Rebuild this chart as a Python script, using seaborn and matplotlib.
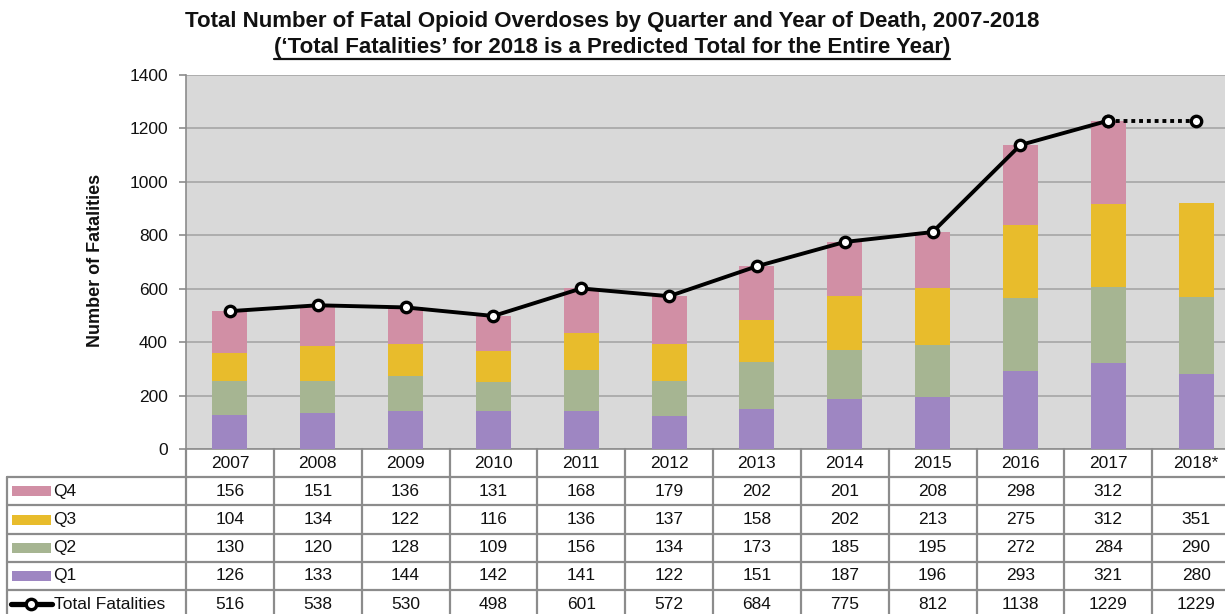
import numpy as np
import pandas as pd
import matplotlib
matplotlib.use("Agg")
import matplotlib.pyplot as plt
import seaborn as sns
from matplotlib.lines import Line2D
from matplotlib.patches import Rectangle

years = ["2007", "2008", "2009", "2010", "2011", "2012", "2013", "2014", "2015", "2016", "2017", "2018*"]
q1 = [126, 133, 144, 142, 141, 122, 151, 187, 196, 293, 321, 280]
q2 = [130, 120, 128, 109, 156, 134, 173, 185, 195, 272, 284, 290]
q3 = [104, 134, 122, 116, 136, 137, 158, 202, 213, 275, 312, 351]
q4 = [156, 151, 136, 131, 168, 179, 202, 201, 208, 298, 312, None]
totals = [516, 538, 530, 498, 601, 572, 684, 775, 812, 1138, 1229, 1229]

title1 = "Total Number of Fatal Opioid Overdoses by Quarter and Year of Death, 2007-2018"
title2 = "(\u2018Total Fatalities\u2019 for 2018 is a Predicted Total for the Entire Year)"

colors = {"Q4": "#D18FA5", "Q3": "#E8BC2C", "Q2": "#A6B592", "Q1": "#9E86C2"}

sns.set_theme(style="white")
plt.rcParams["font.family"] = ["Liberation Sans", "DejaVu Sans"]

W, H = 1225, 614
fig = plt.figure(figsize=(W / 100, H / 100), dpi=100)

def px_axes(l, t, r, b):
    return [l / W, 1 - b / H, (r - l) / W, (b - t) / H]

ax = fig.add_axes(px_axes(186, 75, 1240, 449))
ax.set_facecolor("#D9D9D9")

df = pd.DataFrame({"year": years, "Q1": q1, "Q2": q2, "Q3": q3,
                   "Q4": [np.nan if v is None else v for v in q4]})
df["c1"] = df["Q1"]
df["c2"] = df["c1"] + df["Q2"]
df["c3"] = df["c2"] + df["Q3"]
df["c4"] = (df["c3"] + df["Q4"]).fillna(df["c3"])

for col, q in [("c4", "Q4"), ("c3", "Q3"), ("c2", "Q2"), ("c1", "Q1")]:
    sns.barplot(data=df, x="year", y=col, order=years, color=colors[q],
                saturation=1, width=0.4, ax=ax, zorder=3, linewidth=0)

ax.set_ylim(0, 1400)
ax.set_xlim(-0.5, 11.5)
ax.set_yticks(range(0, 1401, 200))
ax.yaxis.grid(True, color="#A6A6A6", linewidth=1.2, zorder=0)
ax.set_axisbelow(True)
ax.tick_params(axis="y", which="both", left=True, length=5, width=1.2,
               color="#8C8C8C", labelsize=12.5, labelcolor="#111111", pad=8)
ax.tick_params(axis="x", bottom=False, labelbottom=False)
for s in ["top", "right"]:
    ax.spines[s].set_visible(False)
for s in ["left", "bottom"]:
    ax.spines[s].set_color("#8C8C8C")
    ax.spines[s].set_linewidth(1.2)

tot_df = pd.DataFrame({"year": years, "total": totals})
sns.pointplot(data=tot_df.iloc[:11], x="year", y="total", order=years, color="black",
              markers="o", linewidth=2.8, markersize=7.5, ax=ax,
              markerfacecolor="white", markeredgecolor="black", markeredgewidth=2.4, zorder=5)
sns.pointplot(data=tot_df.iloc[10:], x="year", y="total", order=years, color="black",
              markers="o", linestyles=(0, (1, 1)), linewidth=2.8, markersize=7.5, ax=ax,
              markerfacecolor="white", markeredgecolor="black", markeredgewidth=2.4, zorder=4)
ax.set_xlim(-0.5, 11.5)
ax.set_ylim(0, 1400)
ax.set_xlabel("")
ax.set_ylabel("")

fig.text(96 / W, 1 - 260 / H, "Number of Fatalities", rotation=90, ha="center", va="center",
         fontsize=13, fontweight="bold", color="#111111")

fig.text(612 / W, 1 - 22 / H, title1, ha="center", va="center", fontsize=16,
         fontweight="bold", color="#111111")
t2 = fig.text(612 / W, 1 - 47 / H, title2, ha="center", va="center", fontsize=16,
              fontweight="bold", color="#111111")

# table
tax = fig.add_axes(px_axes(7, 449, 1240, 618))
unit = (1240 - 186) / 12
left_x = -0.5 - (186 - 7) / unit
tax.set_xlim(left_x, 11.5)
tax.set_ylim(618, 449)
tax.axis("off")
gc = "#8C8C8C"
row_edges = [449, 477.2, 505.4, 533.6, 561.8, 590, 618.2]
for y in row_edges[1:]:
    tax.plot([left_x, 11.5], [y, y], color=gc, lw=1.6, clip_on=False)
for i in range(12):
    tax.plot([i - 0.5, i - 0.5], [449, 618.2], color=gc, lw=1.6, clip_on=False)
tax.plot([left_x, left_x], [477.2, 618.2], color=gc, lw=1.6, clip_on=False)

def cy(k):
    return (row_edges[k] + row_edges[k + 1]) / 2

fs = 12.5
for i, yl in enumerate(years):
    tax.text(i, cy(0), yl, ha="center", va="center", fontsize=fs, color="#111111")

rows = [("Q4", q4), ("Q3", q3), ("Q2", q2), ("Q1", q1)]

def pxx(p):
    return left_x + (p - 7) / unit

for k, (name, vals) in enumerate(rows, start=1):
    tax.add_patch(Rectangle((pxx(12), cy(k) - 5), pxx(51) - pxx(12), 10,
                            color=colors[name], lw=0))
    tax.text(pxx(53), cy(k), name, ha="left", va="center", fontsize=fs, color="#111111")
    for i, v in enumerate(vals):
        if v is not None:
            tax.text(i, cy(k), str(v), ha="center", va="center", fontsize=fs, color="#111111")

k = 5
tax.plot([pxx(11), pxx(52)], [cy(k), cy(k)], color="black", lw=3.8, clip_on=False)
tax.plot([pxx(31)], [cy(k)], marker="o", markersize=7.5, markerfacecolor="white",
         markeredgecolor="black", markeredgewidth=2.4, clip_on=False)
tax.text(pxx(54), cy(k), "Total Fatalities", ha="left", va="center", fontsize=fs, color="#111111")
for i, v in enumerate(totals):
    tax.text(i, cy(k), str(v), ha="center", va="center", fontsize=fs, color="#111111")

# underline for subtitle
fig.canvas.draw()
bb = t2.get_window_extent()
fig.add_artist(Line2D([bb.x0 / W, bb.x1 / W], [(bb.y0 - 1) / H, (bb.y0 - 1) / H],
                      color="#111111", lw=1.6, transform=fig.transFigure))

fig.savefig("out.png", dpi=100)
